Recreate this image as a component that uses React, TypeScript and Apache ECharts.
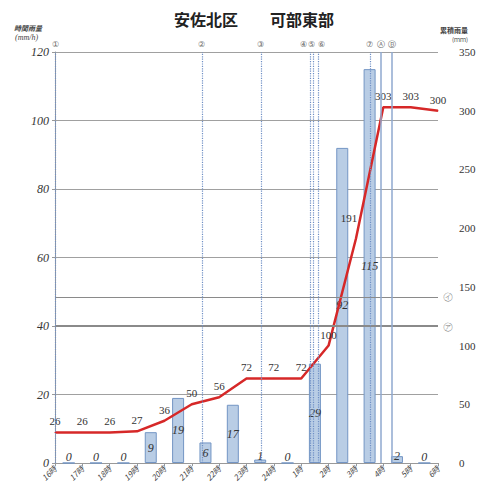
import React, { useEffect, useRef } from "react";
import * as echarts from "echarts";

const hours = ["16時", "17時", "18時", "19時", "20時", "21時", "22時", "23時", "24時", "1時", "2時", "3時", "4時", "5時", "6時"];
// hourly rainfall (mm/h), for the hour ending at the next tick
const hourlyRain = [0, 0, 0, 9, 19, 6, 17, 1, 0, 29, 92, 115, 2, 0];
// cumulative rainfall (mm) at each tick
const cumulative = [26, 26, 26, 27, 36, 50, 56, 72, 72, 72, 100, 191, 303, 303, 300];
// event markers (hours after 16時)
const markerNames = ["①", "②", "③", "④", "⑤", "⑥", "⑦", "Ⓐ", "Ⓑ"];
const markerTimes = [0, 5.37, 7.53, 9.32, 9.43, 9.61, 11.51, 11.92, 12.32];
const markerSolid = [false, false, false, false, false, false, false, true, true];
// threshold lines (mm/h)
const thresholdNames = ["㋑", "㋐"];
const thresholdValues = [48.5, 40];

const leftTicks = { min: 0, max: 120, interval: 20 };
const rightTicks = { min: 0, max: 350, interval: 50 };

export default function App() {
  const ref = useRef<HTMLDivElement>(null);
  useEffect(() => {
    if (!ref.current) return;
    const chart = echarts.init(ref.current, undefined, { renderer: "svg" });
    const markerOffsets: Record<string, number[]> = { "④": [-6, 0], "⑤": [-1, 0], "⑥": [4, 0] };
    const option: any = {
      animation: false,
      backgroundColor: "#ffffff",
      title: {
        text: "安佐北区　　可部東部",
        left: 249,
        top: 6,
        textAlign: "center",
        textStyle: { fontFamily: "Noto Sans CJK JP", fontSize: 16, fontWeight: "bold", color: "#222" },
      },
      graphic: [
        { type: "text", left: 14, top: 24, style: { text: "時間雨量", fontFamily: "Noto Sans CJK JP", fontSize: 7, fontStyle: "italic", fontWeight: "bold", fill: "#444" } },
        { type: "text", left: 15, top: 33, style: { text: "(mm/h)", fontFamily: "Liberation Serif", fontSize: 8, fontStyle: "italic", fill: "#444" } },
        { type: "text", left: 440, top: 26, style: { text: "累積雨量", fontFamily: "Noto Sans CJK JP", fontSize: 7, fontWeight: "bold", fill: "#444" } },
        { type: "text", left: 452, top: 36, style: { text: "(ｍｍ)", fontFamily: "Noto Sans CJK JP", fontSize: 6, fill: "#444" } },
      ],
      grid: { left: 55, right: 52, top: 52, bottom: 28 },
      xAxis: {
        type: "value",
        min: 0,
        max: hours.length - 1,
        interval: 1,
        axisLine: { show: true, lineStyle: { color: "#999" } },
        axisTick: { show: true, lineStyle: { color: "#999" }, length: 3 },
        splitLine: { show: false },
        axisLabel: {
          formatter: (v: number) => hours[Math.round(v)] ?? "",
          rotate: 45,
          fontSize: 8,
          fontStyle: "italic",
          color: "#444",
          fontFamily: "Noto Sans CJK JP",
          margin: 4,
        },
      },
      yAxis: [
        {
          type: "value",
          ...leftTicks,
          axisLine: { show: true, lineStyle: { color: "#999" } },
          axisTick: { show: true, lineStyle: { color: "#999" }, length: 3 },
          splitLine: { show: true, lineStyle: { color: "#a0a0a0", width: 1 } },
          axisLabel: { fontFamily: "Liberation Serif", fontStyle: "italic", fontSize: 12, color: "#333", margin: 6 },
        },
        {
          type: "value",
          ...rightTicks,
          axisLine: { show: false },
          axisTick: { show: false },
          splitLine: { show: false },
          axisLabel: { fontFamily: "Liberation Serif", fontSize: 11, color: "#333", margin: 21 },
        },
      ],
      series: [
        {
          type: "bar",
          yAxisIndex: 0,
          barWidth: 12,
          z: 2,
          data: hourlyRain.map((v, i) => ({
            value: [i + 0.5, v],
            label: v < 4 ? { position: "insideBottom", distance: 1 } : undefined,
          })),
          itemStyle: { color: "#b9cde5", borderColor: "#7395c4", borderWidth: 1 },
          label: {
            show: true,
            position: "inside",
            fontFamily: "Liberation Serif",
            fontStyle: "italic",
            fontSize: 12,
            color: "#333",
          },
          markLine: {
            silent: true,
            symbol: "none",
            data: thresholdValues.map((v, i) => ({
              yAxis: v,
              label: { formatter: thresholdNames[i] },
              lineStyle: { width: i === 1 ? 2 : 1.2 },
            })),
            lineStyle: { color: "#8a8a8a", type: "solid" },
            label: { show: true, position: "end", distance: 5, fontSize: 10, color: "#777" },
          },
        },
        {
          type: "line",
          yAxisIndex: 1,
          z: 4,
          data: cumulative.map((v, i) => ({
            value: [i, v],
            label: v === 191 ? { offset: [-7, -10] } : undefined,
          })),
          symbol: "circle",
          symbolSize: 1,
          lineStyle: { color: "#d62828", width: 2.5 },
          itemStyle: { color: "#d62828" },
          label: {
            show: true,
            position: "top",
            distance: 5,
            fontFamily: "Liberation Serif",
            fontSize: 11,
            color: "#333",
          },
          markLine: {
            silent: true,
            symbol: "none",
            data: markerTimes.map((t, i) => ({
              xAxis: t,
              label: { formatter: markerNames[i], offset: markerOffsets[markerNames[i]] || [0, 0] },
              lineStyle: markerSolid[i]
                ? { type: "solid", color: "#8fa8cf", width: 1.5 }
                : { type: "dotted", color: "#6f8fc5", width: 1.2 },
            })),
            label: { show: true, position: "end", distance: 4, fontSize: 8, color: "#666" },
          },
        },
      ],
    };
    chart.setOption(option);
    return () => chart.dispose();
  }, []);
  return <div ref={ref} style={{ position: "fixed", left: 0, top: 0, width: 490, height: 491 }} />;
}
